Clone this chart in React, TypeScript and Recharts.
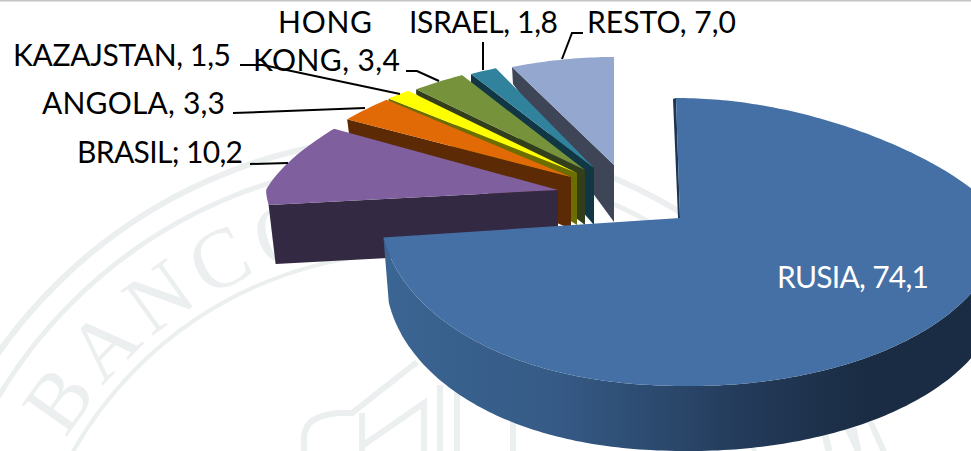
import { PieChart, Pie } from 'recharts';

// Exportaciones por destino (draw order: back slices first, Rusia on top)
const categories = ['RESTO', 'ISRAEL', 'HONG KONG', 'KAZAJSTAN', 'ANGOLA', 'BRASIL', 'RUSIA'];
const values = [7.0, 1.8, 3.4, 1.5, 3.3, 10.2, 74.1];
const topColors = ['#93a7cf', '#31839d', '#76923b', '#ffff00', '#e26a06', '#7f5f9e', '#4570a5'];
const wallColors = ['#3d4557', '#123744', '#333f1b', '#6e6e00', '#5c2a04', '#342942', '#1b3552'];

const chartData = categories.map((name, i) => ({
  name,
  value: values[i],
  fill: topColors[i],
  wall: wallColors[i],
}));

const W = 971;
const H = 451;
const INK = '#000';
const FONT = 'Lato, "Open Sans", sans-serif';
const MARK = '#ecefef';

// fake 3D: how each slice is pulled out and squashed
const SLICES: Record<string, any> = {
  RUSIA: { dx: 0, dy: 0, up: 120, down: 168, tilt: 0.033, scale: 1.005, wallOut: 0, wallIn: 0, shift: 0, depth: 65 },
  BRASIL: { dx: -122, dy: -28, up: 124, down: 128, tilt: 0, scale: 0.98, wallOut: 59, wallIn: 59, shift: 7 },
  ANGOLA: { dx: -109, dy: -41, up: 117, down: 128, tilt: 0, scale: 0.98, wallOut: 15, wallIn: 52, shift: 2 },
  KAZAJSTAN: { dx: -103, dy: -45, up: 113, down: 128, tilt: 0, scale: 1, wallOut: 8, wallIn: 52, shift: 0 },
  'HONG KONG': { dx: -95, dy: -48, up: 111, down: 128, tilt: 0, scale: 1, wallOut: 5, wallIn: 55, shift: 0 },
  ISRAEL: { dx: -86, dy: -50, up: 110, down: 128, tilt: 0, scale: 1, wallOut: 9, wallIn: 57, shift: 0 },
  RESTO: { dx: -66, dy: -53, up: 108, down: 128, tilt: 0, scale: 1.04, wallOut: 17, wallIn: 57, shift: 1 },
};

const LABELS: Record<string, any> = {
  RUSIA: { lines: [['RUSIA, 74,1', 777, 288, 152]], color: '#fff', leader: [] },
  BRASIL: { lines: [['BRASIL; 10,2', 77, 163, 166]], leader: [[250, 164], [288, 163]] },
  ANGOLA: { lines: [['ANGOLA, 3,3', 42, 114, 183]], leader: [[233, 113], [365, 108]] },
  KAZAJSTAN: { lines: [['KAZAJSTAN, 1,5', 13, 66, 218]], leader: [[240, 65], [263, 65], [400, 94]] },
  'HONG KONG': { lines: [['HONG', 278, 33, 94], ['KONG, 3,4', 253, 71, 147]], leader: [[406, 71], [417, 71], [439, 81]] },
  ISRAEL: { lines: [['ISRAEL, 1,8', 409, 33, 149]], leader: [[483, 42], [483, 70]] },
  RESTO: { lines: [['RESTO, 7,0', 587, 33, 149]], leader: [[583, 33], [572, 33], [562, 59]] },
};

const rad = (d: number) => (d * Math.PI) / 180;

function project(cx: number, cy: number, r: number, theta: number, s: any): [number, number] {
  const sin = Math.sin(rad(theta));
  const cos = Math.cos(rad(theta));
  const yy = cos > 0 ? -cos * s.up : -cos * s.down;
  const narrow = cos > 0 ? 1 - 0.24 * cos : 1;
  const wide = sin > 0 ? 1.07 : 1;
  const lean = yy > 0 ? 0.06 * yy : s.tilt * yy;
  // lower left quarter bulges out a bit
  const reach = cos < 0 && sin < 0 ? -Math.pow(-sin, 0.9) : sin;
  return [cx + s.dx + r * s.scale * reach * narrow * wide + lean, cy + s.dy + yy];
}

const toPath = (pts: [number, number][]) =>
  pts.map((p, i) => `${i ? 'L' : 'M'}${p[0].toFixed(1)} ${p[1].toFixed(1)}`).join(' ') + ' Z';

function Slice3D(props: any) {
  const { cx, cy, outerRadius, startAngle, endAngle, name, fill, payload } = props;
  const s = SLICES[name];
  const wall = payload?.wall ?? props.wall;
  const from = (90 - endAngle + 720) % 360;
  const to = from + (endAngle - startAngle);
  const apex: [number, number] = [cx + s.dx, cy + s.dy];

  const arc: [number, number][] = [];
  for (let t = from; t < to; t += 1) arc.push(project(cx, cy, outerRadius, t, s));
  arc.push(project(cx, cy, outerRadius, to, s));

  const first = arc[0];
  const wallPts: [number, number][] = [
    first,
    apex,
    [apex[0], apex[1] + s.wallIn],
    [first[0] + s.shift, first[1] + s.wallOut],
  ];

  if (name === 'RUSIA') {
    const front = arc.filter((_, i) => from + i >= 90);
    const side: [number, number][] = [
      ...front,
      ...[...front].reverse().map((p) => {
        // the lower rim sits a little closer to the middle on the left
        const pull = p[0] < apex[0] ? 1 - (0.018 * (apex[0] - p[0])) / 296 : 1;
        return [apex[0] + (p[0] - apex[0]) * pull, p[1] + s.depth] as [number, number];
      }),
    ];
    return (
      <g>
        <defs>
          <linearGradient id="rusiaSide" gradientUnits="userSpaceOnUse" x1="384" y1="0" x2="971" y2="0">
            <stop offset="0" stopColor="#3b6593" />
            <stop offset="0.3" stopColor="#355a85" />
            <stop offset="0.62" stopColor="#233a59" />
            <stop offset="0.82" stopColor="#1a2c43" />
            <stop offset="1" stopColor="#1a2c43" />
          </linearGradient>
        </defs>
        <path d={toPath(side)} fill="url(#rusiaSide)" />
        <path d={toPath([[first[0] - 3, first[1] + 1], first, apex, [apex[0] - 2, apex[1]]])} fill={wall} />
        <path d={toPath([...arc, apex])} fill={fill} />
      </g>
    );
  }

  return (
    <g>
      <path d={toPath(wallPts)} fill={wall} />
      <path d={toPath([...arc, apex])} fill={fill} />
    </g>
  );
}

function SliceLabel(props: any) {
  const cfg = LABELS[props.name];
  if (!cfg) return null;
  return (
    <g>
      {cfg.leader.length > 0 && (
        <polyline
          points={cfg.leader.map((p: number[]) => p.join(',')).join(' ')}
          fill="none"
          stroke={INK}
          strokeWidth={2}
        />
      )}
      {cfg.lines.map((l: any[]) => (
        <text
          key={l[0]}
          x={l[1]}
          y={l[2]}
          textLength={l[3]}
          lengthAdjust="spacing"
          fontFamily={FONT}
          fontSize={30}
          fill={cfg.color ?? INK}
        >
          {l[0]}
        </text>
      ))}
    </g>
  );
}

// faint seal behind the chart
function Watermark() {
  return (
    <svg width={W} height={H} style={{ position: 'absolute', left: 0, top: 0 }}>
      <rect x={0} y={0} width={W} height={H} fill="#fff" />
      <rect x={0} y={0} width={W} height={1.5} fill="#c4c4c4" />
      <defs>
        <path id="sealArc" d="M 10 645 A 404 404 0 0 1 818 645" />
      </defs>
      <g fill="none" stroke={MARK}>
        <circle cx={414} cy={645} r={508} strokeWidth={6} />
        <circle cx={414} cy={645} r={484} strokeWidth={5} />
        <circle cx={414} cy={645} r={392} strokeWidth={4} />
        <path d="M 304 451 L 304 436 Q 306 415 340 413 L 352 413 L 417 362" strokeWidth={6} />
        <path d="M 362 413 L 362 451" strokeWidth={6} />
        <path d="M 362 446 L 424 403 L 424 451" strokeWidth={6} />
        <path d="M 440 385 L 440 451 M 457 385 L 457 451 M 513 420 L 513 451" strokeWidth={6} />
        <path d="M 825 435 L 829 451 M 853 428 L 858 451" strokeWidth={7} />
      </g>
      <text fontFamily="Liberation Serif, serif" fontSize={84} letterSpacing={8} fill={MARK}>
        <textPath href="#sealArc" startOffset="17%">BANCO</textPath>
      </text>
    </svg>
  );
}

export default function App() {
  return (
    <div style={{ position: 'absolute', left: 0, top: 0, width: W, height: H, overflow: 'hidden' }}>
      <Watermark />
      <div style={{ position: 'absolute', left: 0, top: 0 }}>
        <PieChart width={W} height={H} margin={{ top: 0, right: 0, bottom: 0, left: 0 }}>
          <Pie
            data={chartData}
            dataKey="value"
            nameKey="name"
            cx={680}
            cy={218}
            innerRadius={0}
            outerRadius={298}
            startAngle={90}
            endAngle={450}
            stroke="none"
            isAnimationActive={false}
            shape={Slice3D}
            label={SliceLabel}
            labelLine={false}
          />
        </PieChart>
      </div>
    </div>
  );
}
